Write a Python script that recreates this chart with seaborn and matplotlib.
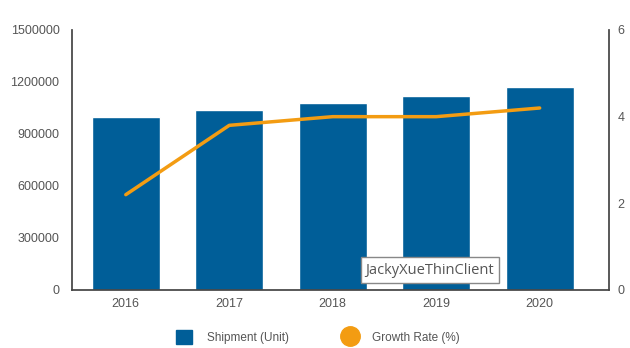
import matplotlib
matplotlib.use("Agg")
import matplotlib.pyplot as plt
import seaborn as sns
import pandas as pd
from matplotlib.lines import Line2D
from matplotlib.patches import Patch

years = ["2016", "2017", "2018", "2019", "2020"]
shipment = [1000000, 1038000, 1079000, 1122000, 1169000]
growth = [2.2, 3.8, 4.0, 4.0, 4.2]
left_ticks = [0, 300000, 600000, 900000, 1200000, 1500000]
right_ticks = [0, 2, 4, 6]

df = pd.DataFrame({"year": years, "shipment": shipment, "growth": growth})

sns.set_theme(style="white")
plt.rcParams['font.family'] = ['Liberation Sans', 'DejaVu Sans']

bar_color = "#005e98"
line_color = "#f39c12"
txt = "#555555"

fig = plt.figure(figsize=(6.3, 3.48), dpi=100)
ax = fig.add_axes([72/630, 1-290/348, (609-72)/630, 260/348])

sns.barplot(data=df, x="year", y="shipment", color=bar_color, width=0.66,
            saturation=1, ax=ax)
ax.set_xlim(-0.52, 4.67)
ax.set_ylim(0, 1500000)
ax.set_yticks(left_ticks)
ax.set_yticklabels([str(t) for t in left_ticks])
ax.set_xlabel("")
ax.set_ylabel("")

ax2 = ax.twinx()
sns.lineplot(x=list(range(len(years))), y=growth, color=line_color, linewidth=2.5, ax=ax2)
ax2.set_ylim(0, 6)
ax2.set_yticks(right_ticks)
ax2.set_xlim(-0.52, 4.67)

for a in (ax, ax2):
    a.spines["top"].set_visible(False)
    for s in ("left", "right", "bottom"):
        a.spines[s].set_color("#444444")
    a.tick_params(axis="both", labelsize=9, colors=txt, length=0, pad=6)
ax.spines["right"].set_visible(False)
ax2.spines["left"].set_visible(False)
ax2.spines["bottom"].set_visible(False)
ax2.tick_params(axis="y", pad=6)
ax.tick_params(axis="y", pad=9)

# watermark box
fig.text(430/630, 1-270/348, "JackyXueThinClient", ha="center", va="center",
         fontsize=10.5, color="#555555", family=['Open Sans', 'DejaVu Sans'],
         bbox=dict(boxstyle="square,pad=0.35", fc="white", ec="#888888", lw=1))

handles = [Patch(facecolor=bar_color, edgecolor=bar_color, label="Shipment (Unit)"),
           Line2D([0], [0], marker="o", color="none", markerfacecolor=line_color,
                  markeredgecolor=line_color, markersize=14, label="Growth Rate (%)")]
fig.legend(handles=handles, loc="center", bbox_to_anchor=(318/630, 1-337/348),
           ncol=2, frameon=False, fontsize=8.5, labelcolor=txt,
           handlelength=1.4, handleheight=1.4, columnspacing=4.5, handletextpad=1.2)

fig.savefig("out.png", dpi=100)
